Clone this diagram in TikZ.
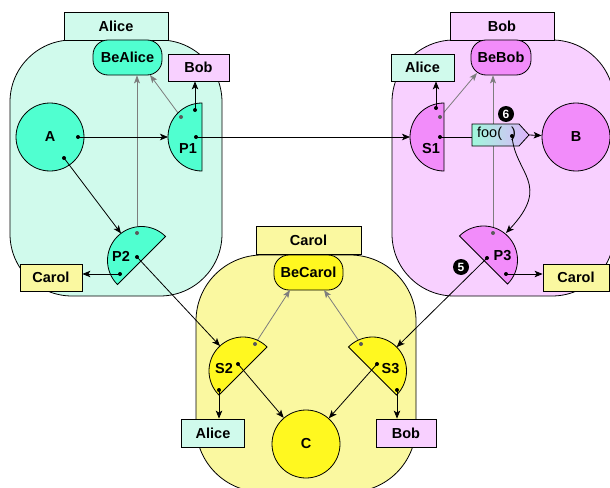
\documentclass[tikz,border=0pt]{standalone}
\usepackage{fontspec}
\setmainfont{Liberation Sans}
\usetikzlibrary{arrows.meta,calc}
\definecolor{mintL}{RGB}{208,250,236}
\definecolor{mint}{RGB}{80,255,208}
\definecolor{pinkL}{RGB}{248,208,255}
\definecolor{pink}{RGB}{242,140,250}
\definecolor{yelL}{RGB}{250,248,160}
\definecolor{yel}{RGB}{255,248,32}
\definecolor{fooL}{RGB}{160,248,220}
\definecolor{fooR}{RGB}{222,180,252}
\definecolor{grayarr}{RGB}{125,125,125}
\definecolor{graydot}{RGB}{90,90,90}
\begin{document}
\begin{tikzpicture}[x=1pt,y=1pt,
  lbl/.style={font=\bfseries\fontsize{14.5}{16}\selectfont},
  container/.style={draw=black, line width=0.8pt, rounded corners=62pt},
  titlebox/.style={draw=black, line width=0.8pt, inner sep=0pt, minimum width=104pt, minimum height=28pt, lbl},
  bebox/.style={draw=black, line width=0.8pt, inner sep=0pt, minimum height=35pt, rounded corners=15pt, lbl},
  refbox/.style={draw=black, line width=0.8pt, inner sep=0pt, minimum height=27pt, lbl},
  vat/.style={circle, draw=black, line width=0.8pt, inner sep=0pt, minimum size=68pt, lbl},
  half/.style={draw=black, line width=0.8pt},
  arr/.style={draw=black, line width=0.8pt, -{Stealth[length=8pt,width=6.5pt,inset=2pt]}},
  plain/.style={draw=black, line width=0.8pt},
  garr/.style={draw=grayarr, line width=0.8pt, -{Stealth[length=8pt,width=6pt,inset=2pt]}},
  num/.style={circle, fill=black, text=white, inner sep=0pt, minimum size=16pt, font=\bfseries\fontsize{12}{12}\selectfont}
]
\useasboundingbox (0,0) rectangle (610,-487);
\clip (0,0) rectangle (610,-487);

% containers
\path[container, fill=mintL] (10,-40) rectangle (222,-296);
\path[container, fill=pinkL] (392,-40) rectangle (614,-296);
\path[container, fill=yelL, rounded corners=66pt] (196,-255) rectangle (416,-492);

% title boxes and Be-nodes
\node[titlebox, fill=mintL] (AliceT) at (116,-26) {Alice};
\node[bebox, fill=mint, minimum width=69pt] (BeAlice) at (127.5,-57.5) {BeAlice};
\node[titlebox, fill=pinkL] (BobT) at (502,-26) {Bob};
\node[bebox, fill=pink, minimum width=60pt] (BeBob) at (501,-57.5) {BeBob};
\node[titlebox, fill=yelL, minimum width=105pt] (CarolT) at (308.5,-240) {Carol};
\node[bebox, fill=yel, minimum width=69pt] (BeCarol) at (308.5,-272.5) {BeCarol};

% reference boxes
\node[refbox, fill=pinkL, minimum width=61pt] (bobInA) at (198.5,-67.5) {Bob};
\node[refbox, fill=yelL, minimum width=62pt] (carolInA) at (51,-277.5) {Carol};
\node[refbox, fill=mintL, minimum width=63pt] (aliceInB) at (422.5,-67.5) {Alice};
\node[refbox, fill=yelL, minimum width=66pt] (carolInB) at (576,-277.5) {Carol};
\node[refbox, fill=mintL, minimum width=63pt, minimum height=28pt] (aliceInC) at (213,-433) {Alice};
\node[refbox, fill=pinkL, minimum width=60pt, minimum height=28pt] (bobInC) at (406,-433) {Bob};

% vats
\node[vat, fill=mint] (A) at (50,-137) {A};
\node[vat, fill=pink] (B) at (576,-137) {B};
\node[vat, fill=yel] (C) at (306,-444) {C};

% ports / coordinates
\coordinate (P1c) at (202,-137);
\coordinate (S1c) at (444,-137);
\coordinate (P2c) at (141.5,-260.5);
\coordinate (P3c) at (483.5,-260);
\coordinate (S2c) at (243,-371);
\coordinate (S3c) at (372.5,-371);

\coordinate (aP1) at (78,-137);
\coordinate (aP2) at (64,-158);
\coordinate (P1w) at (168,-137);
\coordinate (P2in) at (121,-233.4);
\coordinate (p1bob) at (195,-110);
\coordinate (p1be) at (181,-117);
\coordinate (p1out) at (196,-137);
\coordinate (BeAin) at (150,-75);
\coordinate (p2be) at (137,-233);
\coordinate (p2out) at (137,-257);
\coordinate (p2carol) at (120,-274);
\coordinate (S1w) at (410,-137);
\coordinate (s1alice) at (436,-108);
\coordinate (s1be) at (440,-117);
\coordinate (s1out) at (440,-137);
\coordinate (BeBin) at (477,-73);
\coordinate (foodot) at (512,-136);
\coordinate (P3in) at (506,-233);
\coordinate (p3be) at (493,-233);
\coordinate (p3out) at (487,-258);
\coordinate (p3carol) at (506,-274);
\coordinate (S2in) at (220,-346);
\coordinate (S3in) at (396.7,-347.1);
\coordinate (s2be) at (255,-344);
\coordinate (s2c) at (238,-364);
\coordinate (s2alice) at (219,-390);
\coordinate (s3be) at (361,-344);
\coordinate (s3c) at (377,-364);
\coordinate (s3bob) at (397,-390);
\coordinate (BeCinL) at (290,-290);
\coordinate (BeCinR) at (324,-290);

% gray arrows (behind)
\path[garr] (p2be) -- (p2be |- BeAlice.south);
\path[garr] (p1be) -- (BeAin);
\path[garr] (p3be) -- (p3be |- BeBob.south);
\path[garr] (s1be) -- (BeBin);
\path[garr] (s2be) -- (BeCinL);
\path[garr] (s3be) -- (BeCinR);

% half-disk facets
\path[half, fill=mint] ($(P1c)+(90:34pt)$) arc[start angle=90, end angle=270, radius=34pt] -- cycle;
\path[half, fill=pink] ($(S1c)+(90:34pt)$) arc[start angle=90, end angle=270, radius=34pt] -- cycle;
\path[half, fill=mint] ($(P2c)+(45:34pt)$) arc[start angle=45, end angle=225, radius=34pt] -- cycle;
\path[half, fill=pink] ($(P3c)+(135:34pt)$) arc[start angle=135, end angle=-45, radius=34pt] -- cycle;
\path[half, fill=yel] ($(S2c)+(45:34pt)$) arc[start angle=45, end angle=225, radius=34pt] -- cycle;
\path[half, fill=yel] ($(S3c)+(135:34pt)$) arc[start angle=135, end angle=-45, radius=34pt] -- cycle;

\node[lbl] (P1) at (188,-149) {P1};
\node[lbl] (S1) at (431,-149) {S1};
\node[lbl] (P2) at (121,-256) {P2};
\node[lbl] (P3) at (502.5,-256) {P3};
\node[lbl] (S2) at (224,-369) {S2};
\node[lbl] (S3) at (390.5,-369) {S3};

% foo message
\path[draw=black, line width=0.8pt, left color=fooL, right color=fooR]
  (472,-124) -- (519,-124) -- (529,-135) -- (519,-146) -- (472,-146) -- cycle;
\coordinate (fooW) at (472,-137);
\coordinate (fooTip) at (529,-135);
\node[font=\fontsize{14.5}{16}\selectfont, inner sep=0pt] (foo) at (496.5,-134) {foo(\hspace{9pt})};

% black arrows
\path[arr] (aP1) -- (P1w);
\path[arr] (aP2) -- (P2in);
\path[arr] (p1bob) -- (p1bob |- bobInA.south);
\path[arr] (p1out) -- (S1w);
\path[arr] (p2carol) -- (p2carol -| carolInA.east);
\path[arr] (p2out) -- (S2in);
\path[arr] (s1alice) -- (s1alice |- aliceInB.south);
\path[plain] (s1out) -- (fooW);
\path[arr] (fooTip) -- (B);
\path[arr] (foodot) .. controls (515,-174) and (552,-184) .. (P3in);
\path[arr] (p3carol) -- (p3carol -| carolInB.west);
\path[arr] (p3out) -- (S3in);
\path[arr] (s2c) -- (C);
\path[arr] (s3c) -- (C);
\path[arr] (s2alice) -- (s2alice |- aliceInC.north);
\path[arr] (s3bob) -- (s3bob |- bobInC.north);

% dots
\foreach \p in {aP1,aP2,p1bob,p1out,p2out,p2carol,s1alice,s1out,foodot,p3out,p3carol,s2c,s2alice,s3c,s3bob}
  \fill[black] (\p) circle (2pt);
\foreach \p in {p1be,p2be,s1be,p3be,s2be,s3be}
  \fill[graydot] (\p) circle (2pt);

% sequence numbers
\node[num] (n6) at (506,-114) {6};
\node[num] (n5) at (461,-267) {5};
\end{tikzpicture}
\end{document}
